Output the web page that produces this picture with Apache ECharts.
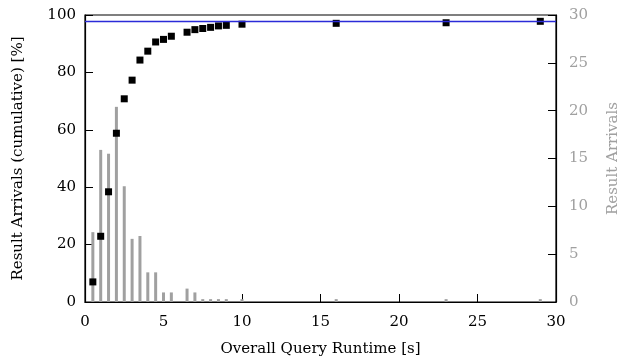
<!DOCTYPE html>
<html>
<head>
<meta charset="utf-8">
<script src="https://cdn.jsdelivr.net/npm/echarts@6/dist/echarts.min.js"></script>
<style>
  html, body { margin: 0; padding: 0; background: #fff; }
  #chart { width: 620px; height: 360px; }
</style>
</head>
<body>
<div id="chart"></div>
<script>
// runtime buckets [s]
const runtimes = [0.5, 1, 1.5, 2, 2.5, 3, 3.5, 4, 4.5, 5, 5.5, 6.5, 7, 7.5, 8, 8.5, 9, 10, 16, 23, 29]
// result arrivals per bucket (right axis)
const arrivals = [7.3, 15.9, 15.5, 20.4, 12.1, 6.6, 6.9, 3.1, 3.1, 1.0, 1.0, 1.4, 1.0, 0.3, 0.3, 0.3, 0.3, 0.3, 0.3, 0.3, 0.3]
// cumulative arrivals [%] (left axis)
const cumulative = [7.0, 22.9, 38.4, 58.8, 70.8, 77.3, 84.3, 87.4, 90.6, 91.5, 92.6, 94.0, 94.9, 95.3, 95.7, 96.2, 96.4, 96.8, 97.1, 97.3, 97.8]
const referenceLine = 97.7

const font = 'DejaVu Serif'
const fontSize = 15
const blue = '#2b2bd8'
const chart = echarts.init(document.getElementById('chart'), null, { renderer: 'canvas' })

chart.setOption({
  animation: false,
  textStyle: { fontFamily: font },
  grid: {
    left: 85,
    right: 64,
    top: 15,
    bottom: 58,
    outerBoundsMode: 'none',
    containLabel: false,
    show: true,
    borderColor: '#000',
    borderWidth: 1.2,
    backgroundColor: 'transparent'
  },
  xAxis: {
    type: 'value',
    min: 0,
    max: 30,
    interval: 5,
    name: 'Overall Query Runtime [s]',
    nameLocation: 'middle',
    nameGap: 40,
    nameTextStyle: { fontFamily: font, fontSize: fontSize, color: '#000' },
    axisLine: { show: true, onZero: false, lineStyle: { color: '#000', width: 1.2 } },
    axisTick: { inside: true, length: 8, lineStyle: { color: '#000' } },
    axisLabel: { fontFamily: font, fontSize: fontSize, color: '#000', margin: 13 },
    splitLine: { show: false }
  },
  yAxis: [
    {
      type: 'value',
      min: 0,
      max: 100,
      interval: 20,
      name: 'Result Arrivals (cumulative) [%]',
      nameLocation: 'middle',
      nameGap: 59,
      nameTextStyle: { fontFamily: font, fontSize: fontSize, color: '#000' },
      axisLine: { show: true, lineStyle: { color: '#000', width: 1.2 } },
      axisTick: { inside: true, length: 8, lineStyle: { color: '#000' } },
      axisLabel: { fontFamily: font, fontSize: fontSize, color: '#000', margin: 9 },
      splitLine: { show: false }
    },
    {
      type: 'value',
      position: 'right',
      min: 0,
      max: 30,
      interval: 5,
      name: 'Result Arrivals',
      nameLocation: 'middle',
      nameGap: 50,
      nameTextStyle: { fontFamily: font, fontSize: fontSize, color: '#a0a0a0' },
      axisLine: { show: true, lineStyle: { color: '#000', width: 1.2 } },
      axisTick: { inside: true, length: 8, lineStyle: { color: '#000' } },
      axisLabel: { fontFamily: font, fontSize: fontSize, color: '#a0a0a0', margin: 13 },
      splitLine: { show: false }
    }
  ],
  series: [
    {
      name: 'Result Arrivals',
      type: 'bar',
      yAxisIndex: 1,
      barWidth: 3,
      itemStyle: { color: '#a0a0a0' },
      data: runtimes.map((x, i) => [x, arrivals[i]])
    },
    {
      name: 'Reference',
      type: 'line',
      yAxisIndex: 0,
      data: [],
      markLine: {
        silent: true,
        symbol: 'none',
        label: { show: false },
        emphasis: { disabled: true },
        lineStyle: { color: blue, width: 1.3, type: 'solid', opacity: 1 },
        data: [{ yAxis: referenceLine, lineStyle: { color: blue } }]
      },
      z: 1
    },
    {
      name: 'Cumulative',
      type: 'scatter',
      yAxisIndex: 0,
      symbol: 'rect',
      symbolSize: 7,
      itemStyle: { color: '#000', opacity: 1 },
      data: runtimes.map((x, i) => [x, cumulative[i]]),
      z: 3
    }
  ]
})
</script>
</body>
</html>
